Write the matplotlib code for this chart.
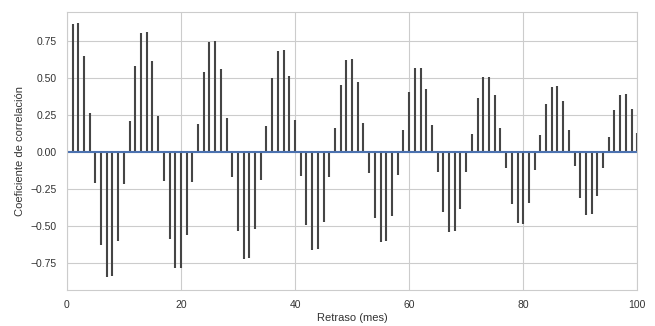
import numpy as np
import matplotlib.pyplot as plt
import seaborn as sns

# autocorrelation values for lags 1..100
lags = np.arange(1, 101)
acf = [
    0.864, 0.870, 0.652, 0.266, -0.205, -0.625, -0.841, -0.834, -0.598, -0.211,
    0.211, 0.584, 0.807, 0.814, 0.614, 0.245, -0.193, -0.584, -0.784, -0.780,
    -0.557, -0.200, 0.189, 0.539, 0.743, 0.750, 0.561, 0.234, -0.170, -0.534,
    -0.723, -0.716, -0.516, -0.186, 0.175, 0.498, 0.686, 0.693, 0.516, 0.216,
    -0.159, -0.493, -0.659, -0.655, -0.473, -0.170, 0.164, 0.455, 0.625, 0.630,
    0.477, 0.198, -0.143, -0.443, -0.602, -0.598, -0.432, -0.152, 0.148, 0.407,
    0.568, 0.568, 0.427, 0.182, -0.130, -0.402, -0.541, -0.534, -0.382, -0.136,
    0.125, 0.364, 0.505, 0.511, 0.386, 0.164, -0.107, -0.352, -0.477, -0.482,
    -0.341, -0.120, 0.114, 0.325, 0.439, 0.448, 0.345, 0.148, -0.095, -0.311,
    -0.420, -0.416, -0.295, -0.109, 0.102, 0.284, 0.386, 0.391, 0.295, 0.130,
]
xticks = [0, 20, 40, 60, 80, 100]
yticks = [-0.75, -0.5, -0.25, 0.0, 0.25, 0.5, 0.75]

sns.set_style('whitegrid')
plt.rcParams['font.family'] = ['Liberation Sans', 'DejaVu Sans']

fig = plt.figure(figsize=(6.55, 3.26), dpi=100)
ax = fig.add_axes([0.102, 0.110, 0.871, 0.853])

ax.vlines(lags, 0, acf, colors='#454545', linewidth=1.5)
ax.axhline(0, color='#4C72B0', linewidth=1.5)

ax.set_xlim(0, 100)
ax.set_ylim(-0.93, 0.946)
ax.set_xticks(xticks)
ax.set_yticks(yticks)
ax.tick_params(labelsize=7.5, colors='#333333')
ax.set_xlabel('Retraso (mes)', fontsize=8, color='#333333', labelpad=2)
ax.set_ylabel('Coeficiente de correlación', fontsize=8, color='#333333')
for s in ax.spines.values():
    s.set_color('#cccccc')

plt.savefig('out.png', dpi=100)
